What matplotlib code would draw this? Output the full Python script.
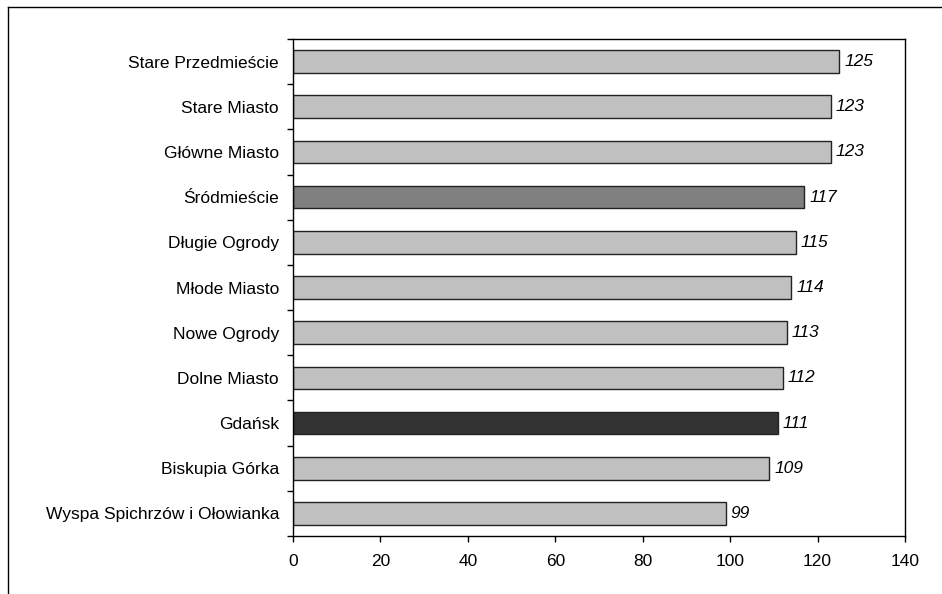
import matplotlib.pyplot as plt
from matplotlib.lines import Line2D

plt.rcParams['font.family'] = ['Liberation Sans', 'DejaVu Sans']

districts = ['Stare Przedmieście', 'Stare Miasto', 'Główne Miasto', 'Śródmieście',
             'Długie Ogrody', 'Młode Miasto', 'Nowe Ogrody', 'Dolne Miasto',
             'Gdańsk', 'Biskupia Górka', 'Wyspa Spichrzów i Ołowianka']
values = [125, 123, 123, 117, 115, 114, 113, 112, 111, 109, 99]
colors = ['#c0c0c0', '#c0c0c0', '#c0c0c0', '#808080', '#c0c0c0', '#c0c0c0',
          '#c0c0c0', '#c0c0c0', '#333333', '#c0c0c0', '#c0c0c0']

fig = plt.figure(figsize=(9.42, 5.94), dpi=100)
ax = fig.add_axes([293/942, 1-536/594, (905-293)/942, (536-39)/594])

pos = list(range(len(districts)))[::-1]
ax.barh(pos, values, height=0.5, color=colors, edgecolor='#222222', linewidth=1)
for p, v in zip(pos, values):
    ax.text(v + 1.1, p, str(v), va='center', ha='left', style='italic', fontsize=12.5)

ax.set_xlim(0, 140)
ax.set_ylim(-0.5, len(districts) - 0.5)
ax.set_xticks(range(0, 141, 20))
ax.set_yticks(pos)
ax.set_yticklabels(districts)
ax.set_yticks([p - 0.5 for p in pos] + [len(districts) - 0.5], minor=True)
ax.tick_params(axis='y', which='major', length=0, pad=10, labelsize=12.5)
ax.tick_params(axis='y', which='minor', length=4, width=1)
ax.tick_params(axis='x', length=4, width=1, labelsize=12.5, pad=9)
for s in ax.spines.values():
    s.set_linewidth(1)

fig.add_artist(Line2D([8/942, 1], [1-7/594, 1-7/594], color='black', linewidth=1))
fig.add_artist(Line2D([8/942, 8/942], [0, 1-7/594], color='black', linewidth=1))

fig.savefig('out.png', dpi=100)
